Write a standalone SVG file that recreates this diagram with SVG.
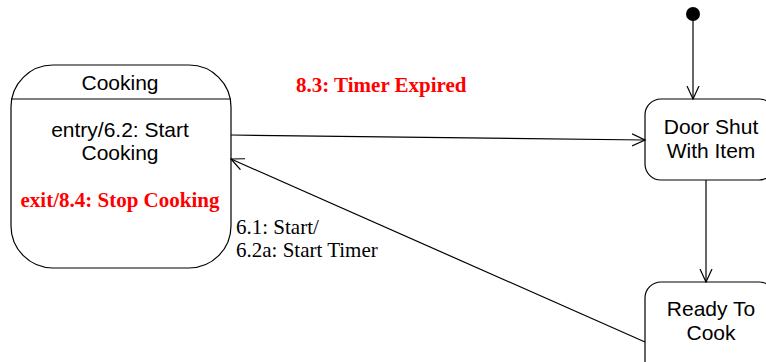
<svg xmlns="http://www.w3.org/2000/svg" width="766" height="362" viewBox="0 0 766 362">
<defs>
<style>
.box{fill:#fff;stroke:#000;stroke-width:1.2}
.line{fill:none;stroke:#000;stroke-width:1.2}
.sans{font-family:"Liberation Sans",Arial,sans-serif;font-size:21px;fill:#000;text-anchor:middle}
.red{font-family:"Liberation Serif","Times New Roman",serif;font-weight:bold;font-size:21px;fill:#f00}
.serif{font-family:"Liberation Serif","Times New Roman",serif;font-size:21px;fill:#000}
</style>
<marker id="open" viewBox="0 0 14 14" refX="13" refY="7" markerWidth="14" markerHeight="14" markerUnits="userSpaceOnUse" orient="auto">
<path d="M0,1 L13,7 L0,13" fill="none" stroke="#000" stroke-width="1.2"/>
</marker>
</defs>
<g id="cooking">
<rect class="box" x="11" y="65" width="220" height="203" rx="42" ry="42"/>
<line class="line" x1="11" y1="99" x2="231" y2="99"/>
<text class="sans" x="120" y="90">Cooking</text>
<text class="sans" x="120" y="137">entry/6.2: Start</text>
<text class="sans" x="120" y="160">Cooking</text>
<text class="red" x="120" y="207" text-anchor="middle">exit/8.4: Stop Cooking</text>
</g>
<g id="initial">
<circle cx="693" cy="14" r="7" fill="#000"/>
</g>
<g id="doorShut">
<rect class="box" x="645" y="99" width="130" height="81" rx="16" ry="16"/>
<text class="sans" x="711" y="134">Door Shut</text>
<text class="sans" x="711" y="158">With Item</text>
</g>
<g id="readyToCook">
<rect class="box" x="645" y="282" width="130" height="100" rx="16" ry="16"/>
<text class="sans" x="711" y="316">Ready To</text>
<text class="sans" x="711" y="340">Cook</text>
</g>
<g id="connectors">
<line class="line" x1="693" y1="20" x2="693" y2="99" marker-end="url(#open)"/>
<line class="line" x1="231" y1="135" x2="645" y2="140" marker-end="url(#open)"/>
<line class="line" x1="706" y1="180" x2="706" y2="282" marker-end="url(#open)"/>
<line class="line" x1="645" y1="342" x2="231" y2="159" marker-end="url(#open)"/>
<text class="red" x="296" y="92">8.3: Timer Expired</text>
<text class="serif" x="236" y="234">6.1: Start/</text>
<text class="serif" x="236" y="257">6.2a: Start Timer</text>
</g>
</svg>
